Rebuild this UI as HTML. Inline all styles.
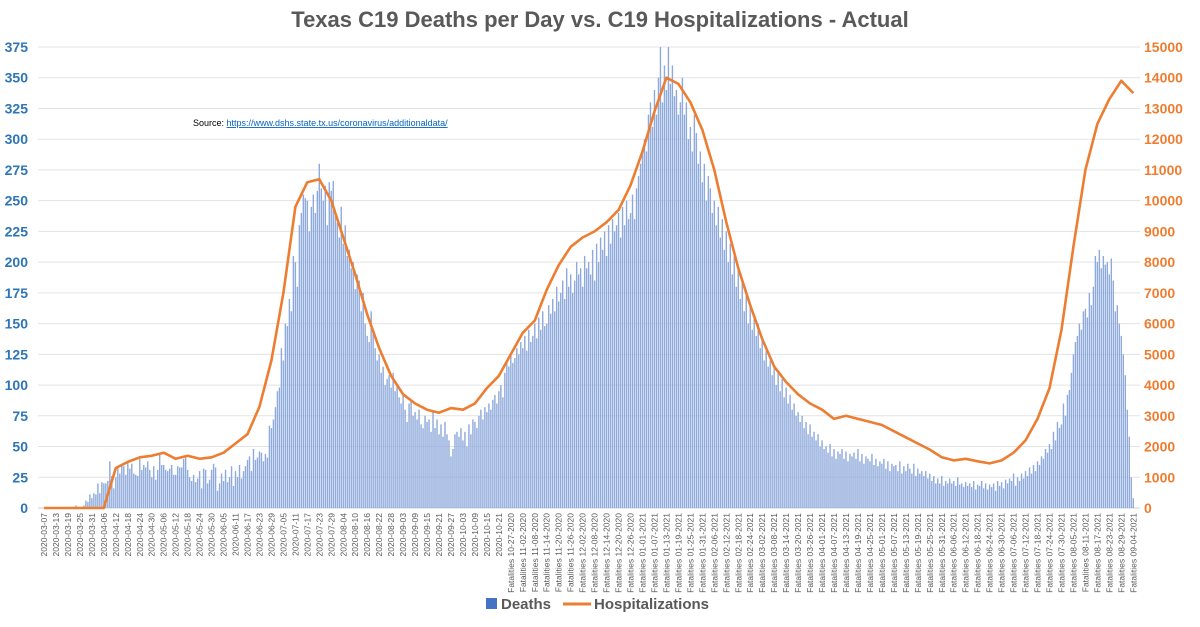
<!DOCTYPE html>
<html><head><meta charset="utf-8"><style>
body{margin:0;background:#fff;font-family:"Liberation Sans",sans-serif}
svg text{font-family:"Liberation Sans",sans-serif}
</style></head><body>
<svg id="chart" width="1200" height="622" xmlns="http://www.w3.org/2000/svg">
<text x="600" y="27" text-anchor="middle" font-size="22" font-weight="bold" fill="#595959">Texas C19 Deaths per Day vs. C19 Hospitalizations - Actual</text>
<text x="193" y="126" font-size="9" fill="#000">Source:  <tspan fill="#0563C1" text-decoration="underline">https://www.dshs.state.tx.us/coronavirus/additionaldata/</tspan></text>
<g id="grid"></g><g id="bars"></g><g id="line"></g><g id="axes"></g><g id="xlabels"></g>
<g>
<rect x="486" y="598" width="11" height="11" fill="#4472C4"/>
<text x="501" y="609" font-size="15" font-weight="bold" fill="#595959">Deaths</text>
<line x1="563" y1="604" x2="591" y2="604" stroke="#ED7D31" stroke-width="3"/>
<text x="594" y="609" font-size="15" font-weight="bold" fill="#595959">Hospitalizations</text>
</g>
</svg>
<script>
const deaths=[0,0,0,0,0,0,0, 0,0,0,0,0,1,0, 1,0,2,1,0,1,2, 6,5,11,8,12,11,20, 12,21,20,20,22,38,26,
16,25,33,28,35,34,27, 38,32,36,28,27,26,40, 31,35,33,38,31,25,34, 23,31,45,35,35,31,30, 32,35,27,27,34,33,33,
40,41,31,25,22,27,21, 24,30,16,32,31,20,23, 31,36,33,14,20,28,22, 31,21,25,34,18,30,25, 35,24,30,34,39,42,30,
48,39,41,46,45,38,44, 41,67,65,72,82,95,98, 130,120,150,148,170,160,205, 200,180,230,240,255,252,250, 225,245,255,240,258,280,260,
250,262,230,265,258,266,240, 232,220,245,215,230,205,210, 195,200,178,190,185,160,175, 150,140,135,160,145,130,120, 125,110,115,100,105,108,98,
110,95,100,90,85,92,80, 70,85,88,75,78,72,80, 68,65,75,70,72,62,78, 65,72,60,68,58,70,60, 55,42,48,60,62,58,65,
55,62,50,68,60,72,70, 65,75,80,72,82,78,85, 80,88,92,85,95,100,90, 110,120,115,125,118,122,130, 125,135,130,140,128,145,135,
140,150,138,155,145,160,148, 150,165,158,170,160,180,168, 175,185,170,195,180,190,175, 185,200,190,195,180,205,195, 200,190,210,185,215,200,220,
210,225,205,230,215,235,225, 230,240,220,245,230,250,235, 240,255,235,260,270,280,290, 300,290,320,330,310,340,320, 350,375,330,360,340,375,345,
360,335,340,320,330,350,320, 330,300,310,290,320,305,280, 290,265,280,250,270,260,240, 250,230,245,220,235,210,225, 200,215,190,205,180,195,170,
185,160,175,150,165,145,155, 140,150,130,138,120,128,115, 120,108,115,100,110,95,105, 90,98,85,92,80,85,75, 78,70,75,65,70,60,68,
58,62,55,60,50,55,48, 50,45,52,42,48,40,46, 44,48,40,46,38,44,42, 45,40,48,38,44,36,42, 40,38,44,35,40,34,38,
36,40,32,38,30,36,34, 35,30,38,28,34,30,36, 32,28,36,26,32,28,30, 26,30,24,28,22,26,20, 24,20,26,18,22,20,24,
20,22,18,25,19,20,17, 21,18,20,17,22,15,19, 18,22,16,20,15,19,17, 20,14,22,18,21,16,23, 20,24,22,28,18,25,22,
28,24,30,26,33,28,35, 30,38,35,42,40,48,45, 52,48,62,55,70,65,68, 85,75,92,96,110,125,135, 140,150,145,160,162,155,175,
165,180,205,200,210,195,205, 198,200,190,203,185,160,165, 150,140,125,108,80,58,25, 8];
const hosp=[0,0,0,0,0,0,1300,1500,1650,1700,1800,1600,1700,1600,1650,1800,2100,2400,3300,4800,7000,9800,10600,10700,10000,8800,7600,6300,5200,4300,3700,3400,3200,3100,3250,3200,3400,3900,4300,5000,5700,6100,7100,7900,8500,8800,9000,9300,9700,10500,11600,12900,14000,13800,13200,12300,11000,9300,7800,6600,5500,4600,4100,3700,3400,3200,2900,3000,2900,2800,2700,2500,2300,2100,1900,1650,1550,1600,1520,1450,1550,1800,2200,2900,3900,5800,8500,11000,12500,13300,13900,13500];
const leftTicks=[0,25,50,75,100,125,150,175,200,225,250,275,300,325,350,375];
const rightTicks=[0,1000,2000,3000,4000,5000,6000,7000,8000,9000,10000,11000,12000,13000,14000,15000];
const NS='http://www.w3.org/2000/svg';
const X0=44,DX=1.995,Y0=508,YTOP=47;
const x=i=>X0+i*DX;
const yL=v=>Y0-v/375*(Y0-YTOP);
const yR=v=>Y0-v/15000*(Y0-YTOP);
function mk(t,a,p){const e=document.createElementNS(NS,t);for(const k in a)e.setAttribute(k,a[k]);document.getElementById(p).appendChild(e);return e;}
leftTicks.forEach((v,j)=>{
 const g=mk('line',{x1:38,x2:1140,y1:yL(v),y2:yL(v),stroke:v?'#e3e3e3':'#cfcfcf','stroke-width':1},'grid');
 
 
 const t=mk('text',{x:28,y:yL(v)+5,'text-anchor':'end','font-size':14,'font-weight':'bold',fill:'#2E75B6'},'axes');
 t.textContent=v;
 
 
});
rightTicks.forEach(v=>{
 const t=mk('text',{x:1144,y:yR(v)+5,'font-size':14,'font-weight':'bold',fill:'#ED7D31'},'axes');
 t.textContent=v;
 
 
});
deaths.forEach((v,i)=>{
 const r=mk('rect',{x:x(i)-0.7,y:yL(v),width:1.4,height:Y0-yL(v),fill:'#8EA9DB'},'bars');
 
 
});
const pts=hosp.map((v,k)=>x(k*6).toFixed(1)+','+yR(v).toFixed(1)).join(' ');
const pl=mk('polyline',{points:pts,fill:'none',stroke:'#ED7D31','stroke-width':2.6,'stroke-linejoin':'round'},'line');


const start=new Date(Date.UTC(2020,2,7));
const p2=n=>String(n).padStart(2,'0');
for(let i=0;i<deaths.length;i+=6){
 const d=new Date(start.getTime()+i*86400000);
 const y=d.getUTCFullYear(),m=p2(d.getUTCMonth()+1),dd=p2(d.getUTCDate());
 const lab=(i<234)?`${y}-${m}-${dd}`:`Fatalities ${m}-${dd}-${y}`;
 const t=mk('text',{transform:`translate(${x(i)+3},513) rotate(-90)`,'text-anchor':'end','font-size':8.5,fill:'#595959'},'xlabels');
 t.textContent=lab;
 
 
}
</script>
</body></html>
